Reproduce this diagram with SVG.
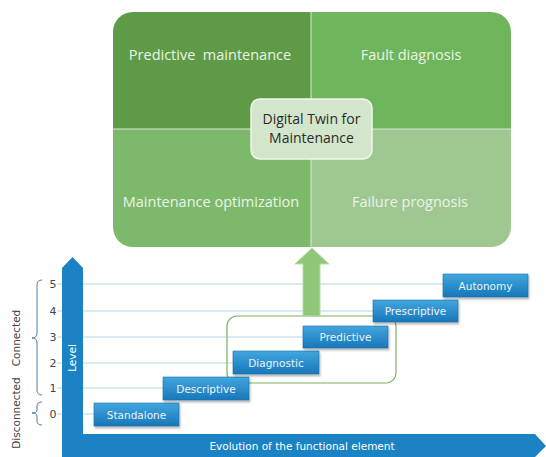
<svg xmlns="http://www.w3.org/2000/svg" width="546" height="457" viewBox="0 0 546 457">
<defs>
<style>
.q{font-family:"Open Sans","Liberation Sans",sans-serif;font-size:14.5px;fill:#eaf3e6;text-anchor:middle}
.c{font-family:"Open Sans","Liberation Sans",sans-serif;font-size:14px;fill:#2a2a2a;text-anchor:middle}
.b{font-family:"DejaVu Sans",Verdana,sans-serif;font-size:10.5px;fill:#e8f4fb;text-anchor:middle}
.n{font-family:"DejaVu Sans",Verdana,sans-serif;font-size:11px;fill:#444;text-anchor:middle}
.s{font-family:"DejaVu Sans",Verdana,sans-serif;font-size:10.5px;fill:#444;text-anchor:middle}
.w{font-family:"DejaVu Sans",Verdana,sans-serif;font-size:10.5px;fill:#ffffff;text-anchor:middle}
.lv{stroke:#b3d8e6;stroke-width:1.2}
.box{fill:url(#bg);stroke:#1a6fa8;stroke-width:0.6;filter:url(#sh)}
.br{fill:none;stroke:#4a7fa8;stroke-width:1}
</style>
<linearGradient id="bg" x1="0" y1="0" x2="0" y2="1">
<stop offset="0" stop-color="#42a6df"/>
<stop offset="1" stop-color="#1877b9"/>
</linearGradient>
<filter id="sh" x="-10%" y="-20%" width="130%" height="160%">
<feDropShadow dx="1" dy="2" stdDeviation="1" flood-color="#000" flood-opacity="0.3"/>
</filter>
<clipPath id="cp"><rect x="113" y="12" width="398" height="235" rx="20"/></clipPath>
</defs>

<g id="panel" clip-path="url(#cp)">
<rect x="113" y="12" width="198" height="117" fill="#5f9b47"/>
<rect x="311" y="12" width="200" height="117" fill="#6fb55c"/>
<rect x="113" y="129" width="198" height="118" fill="#7cb96b"/>
<rect x="311" y="129" width="200" height="118" fill="#9fc791"/>
<line x1="311" y1="12" x2="311" y2="247" stroke="#d8e9d2" stroke-width="1"/>
<line x1="113" y1="129" x2="511" y2="129" stroke="#d8e9d2" stroke-width="1"/>
</g>
<g id="q1"><text class="q" x="210" y="60" xml:space="preserve">Predictive  maintenance</text></g>
<g id="q2"><text class="q" x="411" y="60">Fault diagnosis</text></g>
<g id="q3"><text class="q" x="211" y="207">Maintenance optimization</text></g>
<g id="q4"><text class="q" x="410" y="207">Failure prognosis</text></g>
<g id="center">
<rect x="251" y="99" width="121" height="60" rx="9" fill="#d3e6cc" stroke="#eef6ea" stroke-width="1.5"/>
<text class="c" x="311.5" y="124">Digital Twin for</text>
<text class="c" x="311.5" y="143">Maintenance</text>
</g>

<g id="connectors">
<line class="lv" x1="57" y1="284" x2="443" y2="284"/>
<line class="lv" x1="57" y1="311" x2="373" y2="311"/>
<line class="lv" x1="57" y1="337" x2="303" y2="337"/>
<line class="lv" x1="57" y1="363" x2="233" y2="363"/>
<line class="lv" x1="57" y1="388" x2="163" y2="388"/>
<line class="lv" x1="57" y1="414" x2="94" y2="414"/>
<rect x="227" y="316" width="169" height="67" rx="10" fill="none" stroke="#7ab25e" stroke-width="1.2"/>
<path d="M303,316 L303,264 L295,264 L312,248 L329,264 L320,264 L320,316 Z" fill="#8fc879" stroke="#b5dca4" stroke-width="1"/>
</g>

<g id="axes">
<path d="M62,457 L62,268 L72.5,257 L83,268 L83,434 L535,434 L546,446 L535,457 Z" fill="#1b82c4"/>
<text class="w" transform="translate(76,358) rotate(-90)">Level</text>
<text class="w" x="302" y="450">Evolution of the functional element</text>
</g>

<g id="scale">
<text class="n" x="53" y="288">5</text>
<text class="n" x="53" y="315">4</text>
<text class="n" x="53" y="341">3</text>
<text class="n" x="53" y="367">2</text>
<text class="n" x="53" y="392">1</text>
<text class="n" x="53" y="418">0</text>
</g>

<g id="connected">
<path class="br" d="M42,280 Q37,280 37,285 L37,333 Q37,338 32,338 Q37,338 37,343 L37,390 Q37,395 42,395"/>
<text class="s" transform="translate(20,338) rotate(-90)">Connected</text>
</g>
<g id="disconnected">
<path class="br" d="M42,402 Q37,402 37,406 L37,410 Q37,413 32,413 Q37,413 37,416 L37,421 Q37,425 42,425"/>
<text class="s" transform="translate(20,413) rotate(-90)">Disconnected</text>
</g>

<g id="standalone"><rect class="box" x="94" y="403" width="85" height="23"/><text class="b" x="136.5" y="418.5">Standalone</text></g>
<g id="descriptive"><rect class="box" x="163" y="377" width="86" height="23"/><text class="b" x="206" y="392.5">Descriptive</text></g>
<g id="diagnostic"><rect class="box" x="233" y="351" width="86" height="23"/><text class="b" x="276" y="366.5">Diagnostic</text></g>
<g id="predictive"><rect class="box" x="303" y="326" width="85" height="22"/><text class="b" x="345.5" y="341">Predictive</text></g>
<g id="prescriptive"><rect class="box" x="373" y="300" width="85" height="22"/><text class="b" x="415.5" y="315">Prescriptive</text></g>
<g id="autonomy"><rect class="box" x="443" y="274" width="85" height="23"/><text class="b" x="485.5" y="289.5">Autonomy</text></g>
</svg>
